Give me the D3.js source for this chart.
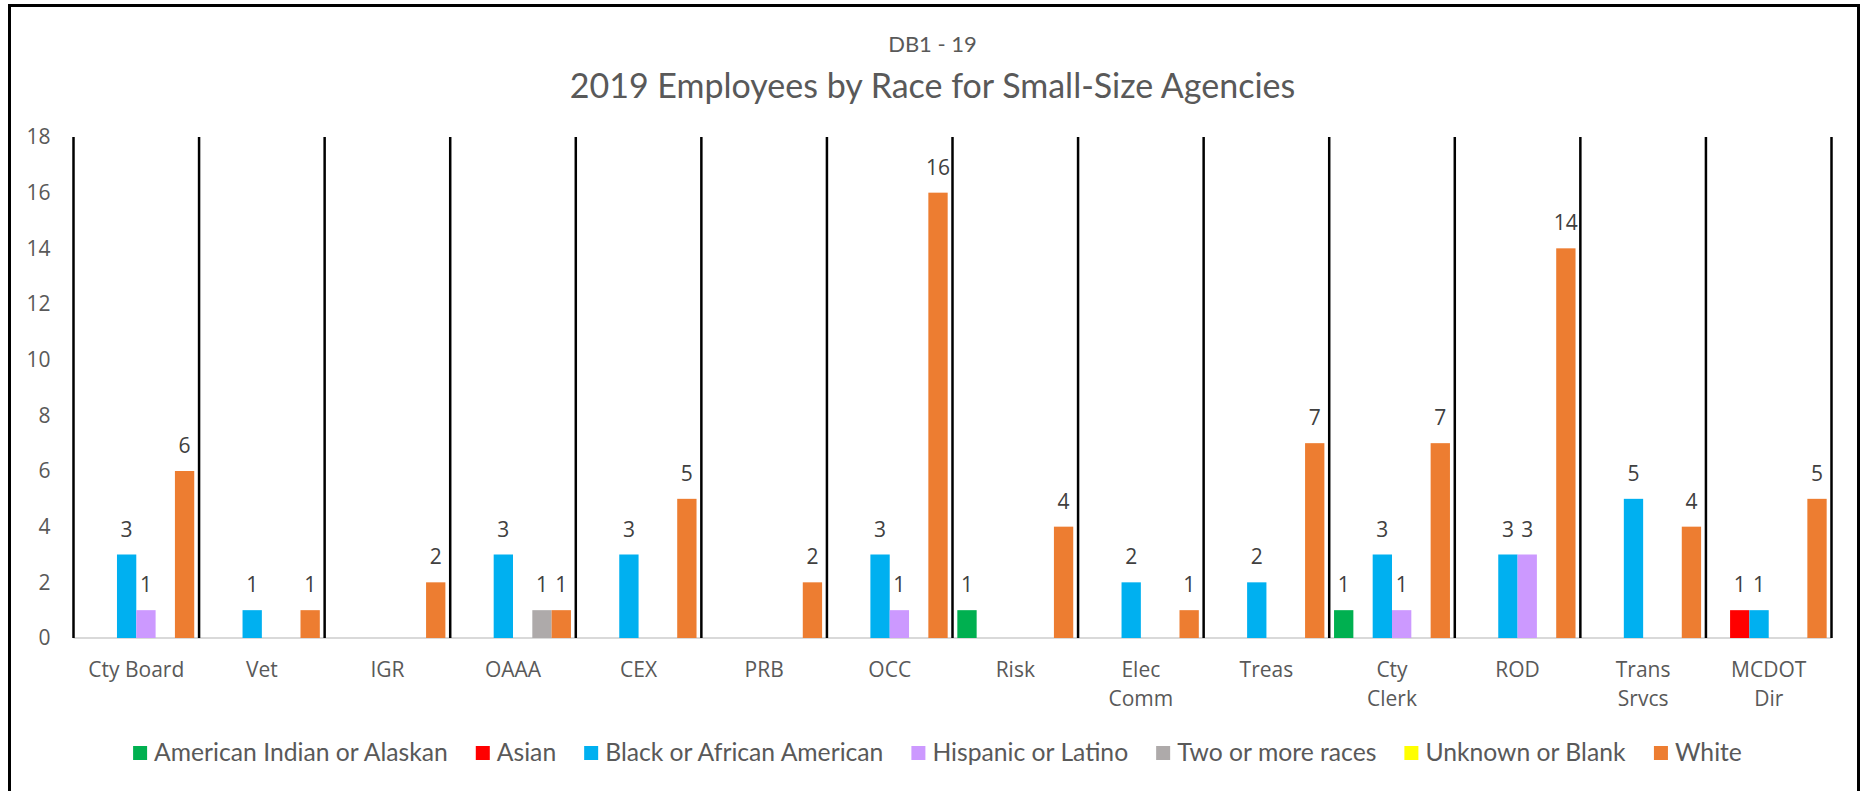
<!DOCTYPE html>
<html>
<head>
<meta charset="utf-8">
<script src="https://cdn.jsdelivr.net/npm/d3@7"></script>
<style>
  html, body { margin: 0; padding: 0; background: #fff; }
  svg { display: block; }
</style>
</head>
<body>
<svg id="chart" width="1865" height="791"></svg>
<script>
// Agencies (x categories); "\n" splits a label over two lines
const agencies = ["Cty Board", "Vet", "IGR", "OAAA", "CEX", "PRB", "OCC", "Risk",
  "Elec\nComm", "Treas", "Cty\nClerk", "ROD", "Trans\nSrvcs", "MCDOT\nDir"];

// Employee counts per race, one entry per agency (null = no employees)
const americanIndian = [null, null, null, null, null, null, null, 1, null, null, 1, null, null, null];
const asian          = [null, null, null, null, null, null, null, null, null, null, null, null, null, 1];
const black          = [3, 1, null, 3, 3, null, 3, null, 2, 2, 3, 3, 5, 1];
const hispanic       = [1, null, null, null, null, null, 1, null, null, null, 1, 3, null, null];
const twoOrMore      = [null, null, null, 1, null, null, null, null, null, null, null, null, null, null];
const unknown        = [null, null, null, null, null, null, null, null, null, null, null, null, null, null];
const white          = [6, 1, 2, 1, 5, 2, 16, 4, 1, 7, 7, 14, 4, 5];

const seriesNames = ["American Indian or Alaskan", "Asian", "Black or African American",
  "Hispanic or Latino", "Two or more races", "Unknown or Blank", "White"];
const seriesValues = [americanIndian, asian, black, hispanic, twoOrMore, unknown, white];
const seriesColors = ["#00B050", "#FF0000", "#00B0F0", "#CC99FF", "#AEAAAA", "#FFFF00", "#ED7D31"];

const yTicks = [0, 2, 4, 6, 8, 10, 12, 14, 16, 18];

const subtitle = "DB1 - 19";
const title = "2019 Employees by Race for Small-Size Agencies";

// ---- layout ----
const W = 1865, H = 791;
const plot = { left: 73.5, right: 1831.5, top: 137, bottom: 638 };
const axisFont = "'Open Sans', 'Noto Sans', sans-serif";
const titleFont = "Lato, 'Open Sans', sans-serif";
const textGray = "#595959";

const svg = d3.select("#chart");

// outer frame (bottom edge runs past the canvas)
svg.append("rect")
  .attr("x", 9.5).attr("y", 5.5)
  .attr("width", 1849).attr("height", H + 20)
  .attr("fill", "none").attr("stroke", "#000").attr("stroke-width", 3);

// titles
svg.append("text")
  .attr("x", W / 2).attr("y", 52)
  .attr("text-anchor", "middle")
  .attr("font-family", titleFont).attr("font-size", 22)
  .attr("fill", textGray)
  .text(subtitle);

svg.append("text")
  .attr("x", W / 2).attr("y", 98)
  .attr("text-anchor", "middle")
  .attr("font-family", titleFont).attr("font-size", 34)
  .attr("fill", textGray)
  .text(title);

// scales
const x = d3.scaleBand()
  .domain(agencies)
  .range([plot.left, plot.right])
  .padding(0);

// series that have at least one employee get a bar slot
const plotted = seriesNames.filter((n, i) => seriesValues[i].some(v => v != null));
const xInner = d3.scaleBand()
  .domain(plotted)
  .range([0, x.bandwidth()])
  .paddingInner(0)
  .paddingOuter(0.25);

const y = d3.scaleLinear().domain([0, 18]).range([plot.bottom, plot.top]);

// y axis labels
const yAxis = svg.append("g")
  .attr("transform", `translate(${plot.left},0)`)
  .call(d3.axisLeft(y).tickValues(yTicks).tickSize(0).tickPadding(23));
yAxis.select(".domain").remove();
yAxis.selectAll("text")
  .attr("font-family", axisFont).attr("font-size", 21).attr("fill", textGray);

// baseline
svg.append("line")
  .attr("x1", plot.left).attr("x2", plot.right)
  .attr("y1", y(0)).attr("y2", y(0))
  .attr("stroke", "#D9D9D9").attr("stroke-width", 2);

// bars
const barData = [];
seriesNames.forEach((name, si) => {
  seriesValues[si].forEach((v, ci) => {
    if (v != null) barData.push({ name, color: seriesColors[si], agency: agencies[ci], value: v });
  });
});

svg.append("g").selectAll("rect")
  .data(barData)
  .join("rect")
  .attr("x", d => x(d.agency) + xInner(d.name))
  .attr("y", d => y(d.value))
  .attr("width", xInner.bandwidth())
  .attr("height", d => y(0) - y(d.value))
  .attr("fill", d => d.color);

// value labels
svg.append("g").selectAll("text")
  .data(barData)
  .join("text")
  .attr("x", d => x(d.agency) + xInner(d.name) + xInner.bandwidth() / 2)
  .attr("y", d => y(d.value) - 18)
  .attr("text-anchor", "middle")
  .attr("font-family", axisFont).attr("font-size", 21)
  .attr("fill", "#404040")
  .text(d => d.value);

// vertical dividers between agencies
const dividers = agencies.map(a => x(a)).concat([plot.right]);
svg.append("g").selectAll("line")
  .data(dividers)
  .join("line")
  .attr("x1", d => d).attr("x2", d => d)
  .attr("y1", y(18)).attr("y2", y(0))
  .attr("stroke", "#000").attr("stroke-width", 2.5);

// x axis category labels (wrapped)
const xAxis = svg.append("g")
  .attr("transform", `translate(0,${y(0)})`)
  .call(d3.axisBottom(x).tickSize(0).tickPadding(0));
xAxis.select(".domain").remove();
xAxis.selectAll("text")
  .attr("font-family", axisFont).attr("font-size", 21).attr("fill", textGray)
  .attr("dy", null).attr("y", 0)
  .each(function (d) {
    const t = d3.select(this);
    const lines = d.split("\n");
    t.text(null);
    lines.forEach((ln, i) => {
      t.append("tspan").attr("x", 0).attr("y", 39 + i * 29).text(ln);
    });
  });

// legend
const legendItems = seriesNames.map((n, i) => ({ name: n, color: seriesColors[i] }));
const legend = svg.append("g").attr("transform", "translate(0,761)");
const itemG = legend.selectAll("g").data(legendItems).join("g");
itemG.append("rect")
  .attr("y", -15).attr("width", 14).attr("height", 14)
  .attr("fill", d => d.color);
itemG.append("text")
  .attr("x", 21).attr("y", 0)
  .attr("font-family", titleFont).attr("font-size", 24.7)
  .attr("fill", textGray)
  .text(d => d.name);

// lay legend items out in one centred row
const gap = 28;
const widths = [];
itemG.each(function () { widths.push(this.getBBox().width); });
const total = d3.sum(widths) + gap * (widths.length - 1);
let cx = (W - total) / 2 + 5;
itemG.attr("transform", (d, i) => {
  const tx = cx;
  cx += widths[i] + gap;
  return `translate(${tx},0)`;
});
</script>
</body>
</html>
